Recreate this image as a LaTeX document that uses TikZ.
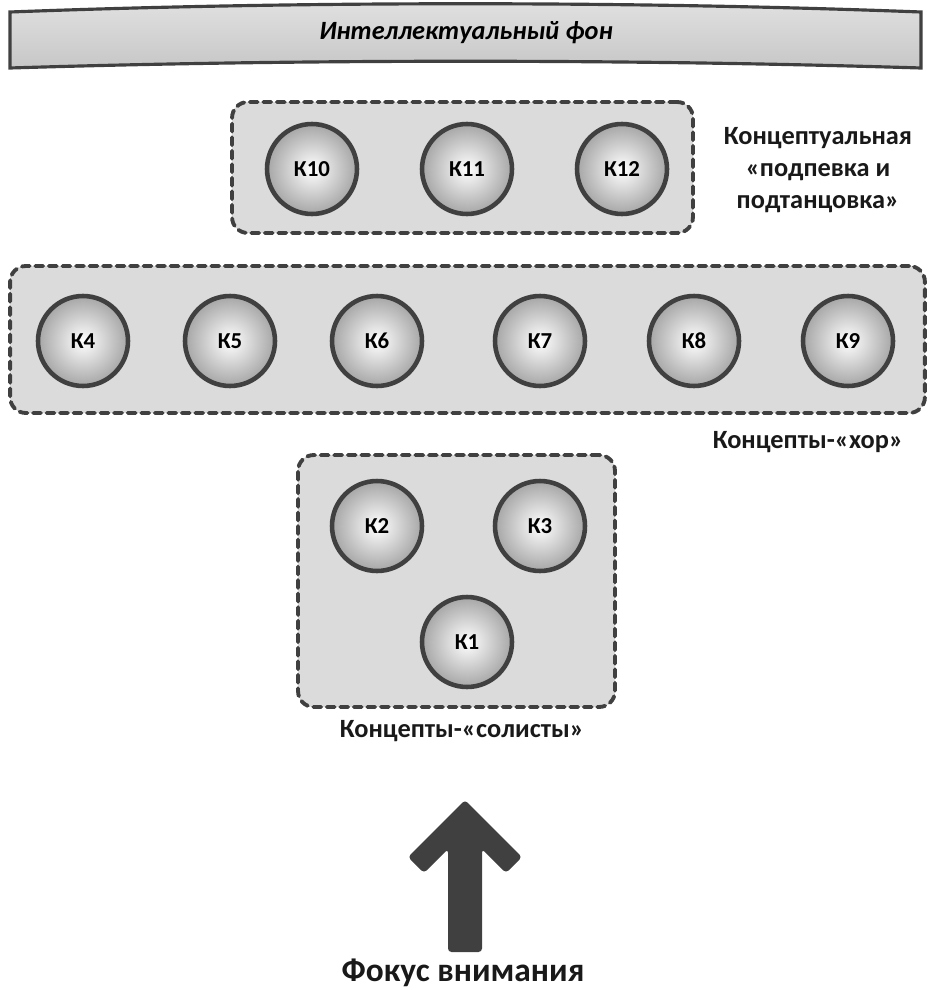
\documentclass[tikz,border=0pt]{standalone}
\usepackage{fontspec}
\setmainfont{Carlito}
\usepackage{tikz}
\usetikzlibrary{shapes,arrows}
\colorlet{darkline}{black!75}
\colorlet{boxfill}{black!14}

\begin{document}
\begin{tikzpicture}[x=0.02cm,y=-0.02cm]
			\tikzset{font=\bfseries}
			
			\tikzset{concept/.style = {shape=circle,draw=darkline,line width=2.6pt,inner sep=0pt,
				minimum size=1.8cm,inner color=white,outer color=black!35,font=\fontsize{13}{15}\selectfont\bfseries}}
			
			\tikzset{group/.style = {shape=rectangle,draw=darkline,fill=boxfill,line width=2.2pt,
				dash pattern=on 4.5pt off 3.2pt,line cap=round,rounded corners=9pt,inner sep=0pt}}
			
			\tikzset{caption/.style = {align=center,font=\fontsize{15}{18}\selectfont\bfseries,text=black!90}}
			
			\useasboundingbox (0,0) rectangle (931,990);
			
			% background band
			\draw[draw=darkline,line width=1.8pt,top color=black!12,bottom color=black!22]
				(10,12) .. controls (300,1) and (631,1) .. (921,12) -- (921,68)
				.. controls (631,59) and (300,59) .. (10,68) -- cycle;
			\node[font=\fontsize{15}{18}\selectfont\bfseries\itshape] (fon) at (466,33) {Интеллектуальный фон};
			
			% groups
			\node[group,minimum width=9.22cm,minimum height=2.62cm] (podpevka) at (462.5,167.5) {};
			\node[group,minimum width=18.3cm,minimum height=2.94cm] (hor) at (467.5,339.5) {};
			\node[group,minimum width=6.34cm,minimum height=5.04cm] (solo) at (456.5,581) {};
			
			% concepts
			\node[concept] (k10) at (312,169) {К10};
			\node[concept] (k11) at (467,169) {К11};
			\node[concept] (k12) at (622,169) {К12};
			
			\node[concept] (k4) at (83,341) {К4};
			\node[concept] (k5) at (230,341) {К5};
			\node[concept] (k6) at (377,341) {К6};
			\node[concept] (k7) at (540,341) {К7};
			\node[concept] (k8) at (694,341) {К8};
			\node[concept] (k9) at (848,341) {К9};
			
			\node[concept] (k2) at (377,526) {К2};
			\node[concept] (k3) at (540,526) {К3};
			\node[concept] (k1) at (467,642) {К1};
			
			% captions
			\node[caption] (lpodpevka) at (818,170) {Концептуальная\\«подпевка и\\подтанцовка»};
			\node[caption] (lhor) at (808,442) {Концепты-«хор»};
			\node[caption] (lsolo) at (462,731) {Концепты-«солисты»};
			
			% focus arrow
			\fill[darkline,rounded corners=2pt] (465,800) -- (522,857) -- (506,873) -- (482,849)
				-- (482,952) -- (448,952) -- (448,849) -- (424,873) -- (408,857) -- cycle;
			\node[font=\fontsize{19}{23}\selectfont\bfseries,text=black!90] (focus) at (463,973) {Фокус внимания};
\end{tikzpicture}
\end{document}
